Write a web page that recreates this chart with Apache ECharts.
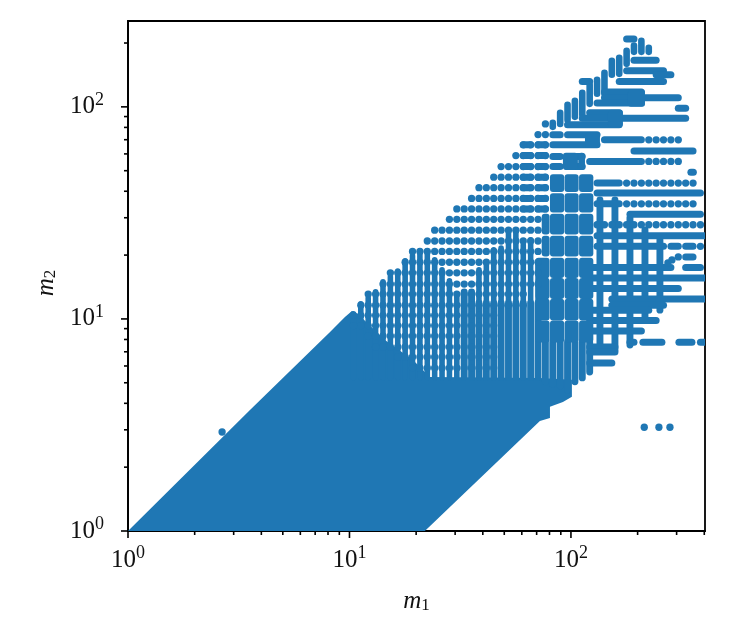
<!DOCTYPE html>
<html>
<head>
<meta charset="utf-8">
<title>m1 m2</title>
<script src="https://cdn.jsdelivr.net/npm/echarts@6/dist/echarts.min.js"></script>
<style>
  html, body { margin: 0; padding: 0; background: #fff; }
  #chart { width: 730px; height: 630px; }
</style>
</head>
<body>
<div id="chart"></div>
<script>
const BLUE = '#1f77b4';
const FONT = '"Liberation Serif", serif';

// ticks
const xTicks = [1, 10, 100];
const yTicks = [1, 10, 100];
const xMinorTicks = [2, 3, 4, 5, 6, 7, 8, 9, 20, 30, 40, 50, 60, 70, 80, 90, 200, 300, 400];
const yMinorTicks = [2, 3, 4, 5, 6, 7, 8, 9, 20, 30, 40, 50, 60, 70, 80, 90, 200];

// the solid wedge, outline
const wedgeM1 = [1, 3.555, 8.17, 9.54, 10.26, 10.92, 14.46, 19.35, 23.09, 72.4, 101, 101, 92, 80.4, 80.4, 72.4, 21.9];
const wedgeM2 = [1, 3.72, 8.68, 10.22, 10.9, 10.56, 7.96, 6.41, 5.33, 5.27, 5.16, 4.29, 4.06, 3.85, 3.41, 3.3, 1];

// m1 values the points line up on
const m1Grid = [9.65, 10.42, 11.25, 12.15, 13.12, 14.17, 15.3, 16.52, 17.84, 19.26, 20.8, 22.46, 24.25, 26.18, 28.27,
  30.53, 32.96, 35.59, 38.43, 41.5, 44.81, 48.38, 52.24, 56.41, 60.91, 65.77, 71.02, 76.68, 82.8, 89.4, 96.53,
  104.2, 112.5, 121.5, 131.2, 141.7, 153, 165.2, 178.4, 192.6, 208, 224.6, 242.5, 261.8, 282.7, 305.3, 329.6, 355.9, 384.3];

// rows of separate points: m2 and first / last m1 of the row
const dotRowM2 = [83.1, 74, 66.2, 58.9, 52.3, 46.6, 41.6, 37, 33, 29.5, 26.2, 23.3, 20.8, 18.5, 16.5, 14.6, 13.1, 11.6, 10.4, 9.3, 8.31, 7.38, 6.62, 5.87,
  69.9, 55.3, 43.7, 34.9, 27.8, 22, 19.6];
const dotRowFrom = [76.68, 71.02, 60.91, 56.41, 48.38, 44.81, 38.43, 35.59, 30.53, 28.27, 24.25, 22.46, 19.26, 17.84, 15.3, 14.17, 12.15, 11.25, 10.42, 10.42, 12.15, 13.12, 16.52, 19.26,
  224.6, 224.6, 178.4, 178.4, 131.2, 384.3, 305.3];
const dotRowTo = [76.68, 76.68, 76.68, 76.68, 76.68, 76.68, 76.68, 76.68, 76.68, 76.68, 76.68, 76.68, 76.68, 71.02, 71.02, 71.02, 60.91, 60.91, 44.81, 44.81, 44.81, 44.81, 44.81, 44.81,
  305.3, 305.3, 355.9, 355.9, 384.3, 384.3, 305.3];

// loose points
const looseM1 = [2.66, 214.3, 249.6, 279.9, 274, 285.8];
const looseM2 = [2.93, 3.085, 3.085, 3.085, 18.37, 18.98];

// horizontal runs where the points merge
const runM2 = [208.8, 165.9, 147.8, 141.6, 131.8, 131.8, 117.4, 110.3, 104.4, 98.4, 93.7, 88.4, 82.3, 73.8, 73.8, 69.9, 66.2, 62, 58.3, 58.3, 55.3, 52.3, 52.3, 49.2,
  43.7, 39.2, 34.9, 31.2, 24.7, 22, 22, 22, 19.6, 17.5, 17.5, 15.6, 13.9, 12.4, 11.6, 11, 9.82, 8.78,
  7.76, 7.76, 7.76, 7.76, 7.38, 6.99, 6.2,
  66.2, 66.2, 58.9, 58.9, 52.3, 52.3, 46.6, 46.6, 41.6, 41.6, 37, 37, 33, 33];
const runFrom = [178.4, 192.6, 178.4, 242.5, 165.2, 112.5, 141.7, 141.7, 131.2, 305.3, 121.5, 112.5, 96.53, 96.53, 82.8, 141.7, 82.8, 192.6, 82.8, 96.53, 121.5, 82.8, 96.53, 348,
  131.2, 131.2, 131.2, 184.7, 131.2, 131.2, 282.7, 329.6, 329.6, 121.5, 329.6, 121.5, 121.5, 153, 153, 121.5, 121.5, 121.5,
  184.7, 211.3, 307.3, 384.3, 121.5, 121.5, 121.5,
  60.91, 71.02, 60.91, 71.02, 60.91, 71.02, 60.91, 71.02, 60.91, 71.02, 60.91, 71.02, 60.91, 71.02];
const runTo = [192.6, 242.5, 261.8, 282.7, 261.8, 121.5, 208, 305.3, 208, 329.6, 165.2, 329.6, 165.2, 131.2, 89.4, 208, 131.2, 355.9, 89.4, 112.5, 208, 89.4, 112.5, 357,
  165.2, 384.3, 165.2, 384.3, 403, 261.8, 305.3, 355.9, 355.9, 282.7, 384.3, 403, 305.3, 403, 261.8, 224.6, 242.5, 208,
  192.6, 257.5, 351.8, 403, 158, 158, 153,
  65.77, 76.68, 65.77, 76.68, 65.77, 76.68, 65.77, 76.68, 65.77, 76.68, 65.77, 76.68, 65.77, 76.68];

// vertical runs, the thin stems above the wedge
const stemM1 = [10.42, 11.25, 12.15, 13.12, 14.17, 15.3, 16.52, 17.84, 19.26, 20.8, 22.46, 24.25, 26.18, 28.27, 30.53,
  38.43, 41.5, 44.81, 48.38, 52.24, 56.41, 60.91, 65.77, 71.02, 76.68];
const stemTop = [10.56, 11.77, 12.56, 13.41, 14.95, 15.78, 16.84, 18.78, 19.82, 20.93, 20.93, 18.98, 17.03, 15.11, 12.98,
  17.03, 18.57, 21.2, 21.6, 25.7, 25.7, 22.3, 23.6, 18.57, 18.57];
const stemBottom = [5.3, 5.3, 5.3, 5.3, 5.3, 5.3, 5.3, 5.3, 5.3, 5.3, 5.3, 5.3, 5.3, 5.3, 5.3,
  11.9, 11.9, 11.9, 11.9, 11.9, 11.9, 11.9, 11.9, 11.9, 11.9];

// vertical runs at the tip
const tipM1 = [192.6, 208, 224.6, 178.4, 165.2, 153, 141.7, 131.2, 121.5, 112.5, 104.2, 96.53, 89.4, 82.8];
const tipTop = [194.8, 204.8, 189.8, 183.7, 170.2, 164.8, 144.7, 134.1, 127, 116.4, 106.7, 102.2, 93.7, 84];
const tipBottom = [181.7, 181.7, 181.7, 159.5, 143.1, 141.6, 115.2, 115.2, 103.3, 91.7, 89.7, 86.8, 83.1, 80.5];

// wide vertical runs, only a thin slit stays between them
const wideM1 = [32.96, 35.59, 38.43, 41.5, 44.81, 48.38, 52.24, 56.41, 60.91, 65.77, 71.02,
  76.68, 82.8, 89.4, 96.53, 104.2, 112.5, 121.5,
  135.2, 158, 184.7, 215.9, 252.2];
const wideTop = [13.41, 13.41, 11.9, 11.9, 11.9, 11.9, 11.9, 11.9, 11.9, 11.9, 11.9,
  7.79, 7.79, 7.79, 7.79, 7.79, 7.79, 7.79,
  36.4, 36.4, 30, 26.3, 23.6];
const wideBottom = [5.3, 5.3, 5.3, 5.3, 5.3, 5.3, 5.3, 5.3, 5.3, 5.3, 5.3,
  5.05, 4.94, 4.83, 4.62, 5.05, 5.27, 5.62,
  7.14, 7.14, 7.54, 9.89, 11];

// filled blocks: one column list, one band list
const blockColLow = [69.2, 80.4, 93.6, 108.8];
const blockColHigh = [80.1, 93.2, 108.3, 126.2];
const bandLow = [39.65, 31.8, 25.04, 19.67, 15.6, 12.42, 9.83, 7.74];
const bandHigh = [48.1, 39.15, 31.3, 24.66, 19.43, 15.6, 12.44, 9.84];
const bandFirst = [80.4, 80.4, 73.8, 73.8, 69.2, 69.2, 69.2, 69.2];

// single blocks further up
const soloM1Low = [180.9, 146.9, 115.7, 92, 107.9];
const soloM1High = [215.9, 171.7, 135.2, 107.5, 115.7];
const soloM2Low = [100, 80.5, 64.1, 50.4, 50.4];
const soloM2High = [120.3, 96.8, 75.4, 60.7, 60.7];

const dotData = [];
dotRowM2.forEach((m2, r) => {
  m1Grid.forEach(m1 => {
    if (m1 >= dotRowFrom[r] && m1 <= dotRowTo[r]) dotData.push([m1, m2]);
  });
});
looseM1.forEach((m1, i) => dotData.push([m1, looseM2[i]]));

const blockData = [];
bandLow.forEach((low, b) => {
  blockColLow.forEach((colLow, c) => {
    if (blockColHigh[c] > bandFirst[b]) {
      blockData.push([Math.max(colLow, bandFirst[b]), low, blockColHigh[c], bandHigh[b]]);
    }
  });
});
soloM1Low.forEach((v, i) => blockData.push([v, soloM2Low[i], soloM1High[i], soloM2High[i]]));

function lineSeries(data, width) {
  return {
    type: 'custom',
    clip: true,
    silent: true,
    data: data,
    renderItem(params, api) {
      const a = api.coord([api.value(0), api.value(1)]);
      const b = api.coord([api.value(2), api.value(3)]);
      return {
        type: 'line',
        shape: { x1: a[0], y1: a[1], x2: b[0], y2: b[1] },
        style: { stroke: BLUE, lineWidth: width, lineCap: 'round', fill: null }
      };
    }
  };
}

function tickSeries(values, isX, length) {
  return {
    type: 'custom',
    clip: false,
    silent: true,
    z: 10,
    data: values.map(v => (isX ? [v, 1] : [1, v])),
    renderItem(params, api) {
      const p = api.coord([api.value(0), api.value(1)]);
      const shape = isX
        ? { x1: p[0], y1: p[1], x2: p[0], y2: p[1] + length }
        : { x1: p[0], y1: p[1], x2: p[0] - length, y2: p[1] };
      return { type: 'line', shape: shape, style: { stroke: '#000', lineWidth: 1.6 } };
    }
  };
}

function powerLabel(value) {
  const exp = Math.round(Math.log10(value));
  if (Math.abs(Math.pow(10, exp) - value) > 1e-6 * value) return '';
  return '{b|10}{s|' + exp + '}';
}

const labelRich = {
  b: { fontFamily: FONT, fontSize: 25, color: '#111' },
  s: { fontFamily: FONT, fontSize: 18, color: '#111', padding: [0, 0, 14, 0] }
};

const nameRich = {
  m: { fontFamily: FONT, fontSize: 25, fontStyle: 'italic', color: '#111' },
  i: { fontFamily: FONT, fontSize: 17, color: '#111', padding: [8, 0, 0, 0] }
};

const series = [
  {
    type: 'custom',
    clip: true,
    silent: true,
    data: wedgeM1.map((v, i) => [v, wedgeM2[i]]),
    renderItem(params, api) {
      if (params.dataIndex !== 0) return null;
      return {
        type: 'polygon',
        shape: { points: wedgeM1.map((v, i) => api.coord([v, wedgeM2[i]])) },
        style: { fill: BLUE }
      };
    }
  },
  lineSeries(stemM1.map((v, i) => [v, stemBottom[i], v, stemTop[i]]), 5.6),
  lineSeries(tipM1.map((v, i) => [v, tipBottom[i], v, tipTop[i]]), 6.6),
  lineSeries(wideM1.map((v, i) => [v, wideBottom[i], v, wideTop[i]]), 6.9),
  lineSeries(runM2.map((v, i) => [runFrom[i], v, runTo[i], v]), 7),
  {
    type: 'custom',
    clip: true,
    silent: true,
    data: blockData,
    renderItem(params, api) {
      const a = api.coord([api.value(0), api.value(3)]);
      const b = api.coord([api.value(2), api.value(1)]);
      return {
        type: 'rect',
        shape: { x: a[0], y: a[1], width: b[0] - a[0], height: b[1] - a[1], r: 3 },
        style: { fill: BLUE }
      };
    }
  },
  {
    type: 'scatter',
    data: dotData,
    symbolSize: 7.3,
    clip: true,
    silent: true,
    large: false,
    itemStyle: { color: BLUE, opacity: 1 }
  },
  tickSeries(xTicks, true, 7),
  tickSeries(yTicks, false, 7),
  tickSeries(xMinorTicks, true, 4),
  tickSeries(yMinorTicks, false, 4)
];

const chart = echarts.init(document.getElementById('chart'), null, { renderer: 'canvas' });
chart.setOption({
  animation: false,
  backgroundColor: '#fff',
  grid: { left: 128, right: 25, top: 21, bottom: 99, show: true, borderColor: '#000', borderWidth: 1.8, backgroundColor: 'transparent' },
  xAxis: {
    type: 'log',
    logBase: 10,
    min: 1,
    max: 403,
    name: '{m|m}{i|1}',
    nameLocation: 'middle',
    nameGap: 58,
    nameTextStyle: { rich: nameRich },
    axisLine: { show: true, onZero: false, lineStyle: { color: '#000', width: 1.8 } },
    axisTick: { show: false },
    minorTick: { show: false },
    splitLine: { show: false },
    axisLabel: { margin: 13, formatter: powerLabel, rich: labelRich, hideOverlap: false }
  },
  yAxis: {
    type: 'log',
    logBase: 10,
    min: 1,
    max: 254,
    name: '{m|m}{i|2}',
    nameLocation: 'middle',
    nameGap: 68,
    nameRotate: 90,
    nameTextStyle: { rich: nameRich, padding: [0, 14, 0, 0] },
    axisLine: { show: true, onZero: false, lineStyle: { color: '#000', width: 1.8 } },
    axisTick: { show: false },
    minorTick: { show: false },
    splitLine: { show: false },
    axisLabel: { margin: 24, formatter: powerLabel, rich: labelRich, hideOverlap: false }
  },
  series: series
});
window.addEventListener('resize', () => chart.resize());
</script>
</body>
</html>
